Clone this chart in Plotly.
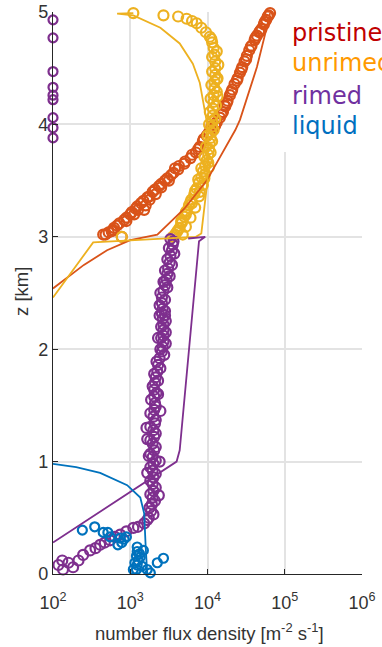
import plotly.graph_objects as go

# ---------------- data (log10 of number flux density, height in km) ----------------
pristine_obs_logN = [4.81, 4.78, 4.76, 4.73, 4.70, 4.67, 4.64, 4.61, 4.57, 4.54, 4.51, 4.48, 4.45, 4.42,
                     4.39, 4.35, 4.32, 4.29, 4.26, 4.23, 4.20, 4.16, 4.12, 4.07, 3.99, 3.94, 3.90, 3.85,
                     3.78, 3.70, 3.62, 3.53, 3.45, 3.40, 3.37, 3.29, 3.25, 3.22, 3.14, 3.10, 3.07, 3.00,
                     2.95, 2.92, 2.83, 2.78, 2.76, 2.68, 2.65, 2.89, 4.22, 4.05, 3.58, 3.33, 3.18,
                     4.79, 4.74, 4.68, 4.62, 4.56, 4.50, 4.44, 4.38, 4.31, 4.25, 4.18, 4.10, 4.02, 3.95,
                     3.88, 3.80, 3.71, 3.63, 3.56, 3.48, 3.40, 3.32, 3.25, 3.17, 3.09, 3.02, 2.95, 2.86,
                     2.79, 2.72, 3.05, 3.20, 3.50]
pristine_obs_z = [4.99, 4.96, 4.93, 4.89, 4.85, 4.82, 4.79, 4.75, 4.70, 4.66, 4.61, 4.56, 4.51, 4.46,
                  4.41, 4.36, 4.31, 4.26, 4.21, 4.16, 4.11, 4.06, 4.02, 3.96, 3.90, 3.85, 3.80, 3.75,
                  3.70, 3.65, 3.60, 3.55, 3.50, 3.44, 3.45, 3.40, 3.33, 3.35, 3.30, 3.24, 3.25, 3.20,
                  3.14, 3.15, 3.10, 3.06, 3.05, 3.02, 3.02, 3.00, 4.17, 3.98, 3.61, 3.38, 3.24,
                  4.97, 4.91, 4.83, 4.77, 4.69, 4.58, 4.49, 4.39, 4.29, 4.19, 4.09, 3.99, 3.93, 3.87,
                  3.78, 3.73, 3.67, 3.63, 3.57, 3.52, 3.47, 3.42, 3.36, 3.32, 3.27, 3.22, 3.17, 3.12,
                  3.08, 3.04, 3.20, 3.28, 3.50]

pristine_mod_logN = [2.00, 2.40, 2.70, 3.00, 3.35, 3.70, 3.99, 4.20, 4.36, 4.42, 4.64, 4.77, 4.81]
pristine_mod_z = [2.54, 2.75, 2.88, 2.97, 3.02, 3.25, 3.50, 3.75, 3.95, 4.04, 4.51, 4.87, 4.99]

unrimed_obs_logN = [3.04, 3.43, 3.62, 3.73, 3.80, 3.86, 3.92, 3.98, 4.03, 4.06, 4.08, 4.09, 4.10, 4.10,
                    4.10, 4.09, 4.09, 4.08, 4.08, 4.07, 4.07, 4.06, 4.06, 4.05, 4.04, 4.03, 4.02, 4.01,
                    3.99, 3.97, 3.94, 3.92, 3.89, 3.86, 3.83, 3.79, 3.76, 3.73, 3.70, 3.67, 3.64, 3.60,
                    3.55, 2.89, 4.02, 3.96, 3.90, 3.80, 3.72, 3.66, 4.12, 4.13,
                    4.05, 4.12, 4.06, 4.14, 4.06, 4.13, 4.05, 4.12, 4.04, 4.11, 4.03, 4.10, 4.02, 4.08,
                    4.00, 4.06, 3.98, 4.04, 3.96, 4.01, 3.92, 3.97, 3.88, 3.94, 3.84, 3.89, 3.78, 3.84,
                    3.72, 3.78, 3.66, 3.72, 3.62, 3.68, 3.58]
unrimed_obs_z = [4.99, 4.97, 4.96, 4.94, 4.92, 4.90, 4.86, 4.82, 4.78, 4.73, 4.68, 4.62, 4.56, 4.50,
                 4.44, 4.38, 4.32, 4.26, 4.20, 4.14, 4.08, 4.03, 3.98, 3.93, 3.88, 3.83, 3.78, 3.73,
                 3.68, 3.63, 3.58, 3.53, 3.48, 3.43, 3.38, 3.33, 3.28, 3.23, 3.18, 3.13, 3.08, 3.04,
                 3.00, 3.00, 3.62, 3.52, 3.40, 3.30, 3.20, 3.12, 4.40, 4.25,
                 4.76, 4.65, 4.60, 4.53, 4.47, 4.41, 4.35, 4.29, 4.23, 4.17, 4.11, 4.05, 4.00, 3.95,
                 3.90, 3.85, 3.80, 3.75, 3.71, 3.66, 3.61, 3.56, 3.51, 3.46, 3.41, 3.36, 3.31, 3.26,
                 3.22, 3.17, 3.14, 3.09, 3.06, 3.02, 3.02]

unrimed_mod_logN = [2.00, 2.52, 3.30, 3.85, 3.92, 4.00, 4.01, 3.97, 3.90, 3.81, 3.64, 3.39, 3.04, 2.83, 3.04]
unrimed_mod_z = [2.46, 2.95, 2.98, 3.00, 3.03, 3.50, 3.95, 4.10, 4.37, 4.54, 4.72, 4.86, 4.97, 4.985, 4.99]

rimed_obs_logN = [3.52, 3.55, 3.54, 3.52, 3.51, 3.49, 3.48, 3.47, 3.45, 3.43, 3.41, 3.41, 3.42, 3.41,
                  3.42, 3.43, 3.43, 3.43, 3.43, 3.42, 3.41, 3.38, 3.36, 3.35, 3.33, 3.32, 3.31, 3.31,
                  3.32, 3.31, 3.30, 3.32, 3.30, 3.31, 3.29, 3.31, 3.29, 3.30, 3.29, 3.30, 3.29, 3.30,
                  3.29, 3.28, 3.27, 3.24, 3.18, 3.10, 3.04, 2.95, 2.87, 2.80, 2.74, 2.67, 2.61, 2.55,
                  2.48, 2.39, 2.33, 2.26, 2.13, 2.07, 2.12, 2.20, 3.22, 3.38, 3.22, 3.37, 3.21, 3.39,
                  3.24, 3.36, 3.36, 3.45, 3.44,
                  3.56, 3.50, 3.57, 3.48, 3.54, 3.45, 3.51, 3.43, 3.48, 3.39, 3.45, 3.38, 3.45, 3.38,
                  3.46, 3.40, 3.46, 3.40, 3.46, 3.39, 3.44, 3.34, 3.39, 3.31, 3.36, 3.29, 3.34, 3.27,
                  3.33, 3.26, 3.33, 3.26, 3.33, 3.26, 3.33, 3.26, 3.33, 3.26, 3.33, 3.26, 3.33, 3.26,
                  3.32, 3.25, 3.30, 3.22]
rimed_obs_z = [2.98, 2.93, 2.88, 2.83, 2.77, 2.72, 2.67, 2.62, 2.57, 2.52, 2.46, 2.41, 2.36, 2.32,
               2.27, 2.22, 2.17, 2.12, 2.07, 2.02, 1.98, 1.92, 1.86, 1.80, 1.75, 1.70, 1.64, 1.58,
               1.52, 1.46, 1.40, 1.34, 1.28, 1.22, 1.16, 1.10, 1.04, 0.98, 0.92, 0.86, 0.80, 0.74,
               0.68, 0.62, 0.56, 0.50, 0.45, 0.42, 0.41, 0.38, 0.35, 0.33, 0.30, 0.28, 0.26, 0.23,
               0.21, 0.17, 0.12, 0.06, 0.04, 0.08, 0.12, 0.10, 1.20, 1.00, 0.90, 0.70, 1.30, 1.45,
               1.05, 1.60, 2.10, 2.30, 2.60,
               2.96, 2.90, 2.85, 2.80, 2.75, 2.70, 2.65, 2.60, 2.55, 2.50, 2.44, 2.39, 2.34, 2.30,
               2.25, 2.20, 2.15, 2.10, 2.05, 2.00, 1.95, 1.89, 1.83, 1.78, 1.72, 1.67, 1.61, 1.55,
               1.49, 1.43, 1.37, 1.31, 1.25, 1.19, 1.13, 1.07, 1.01, 0.95, 0.89, 0.83, 0.77, 0.71,
               0.65, 0.59, 0.53, 0.48]
rimed_top_logN = [2.0, 2.0, 2.0, 2.0, 2.0, 2.0, 2.0, 2.0, 2.0]
rimed_top_z = [4.93, 4.77, 4.47, 4.33, 4.26, 4.22, 4.06, 3.97, 3.88]

rimed_mod_logN = [3.75, 3.97, 3.89, 3.76, 3.64, 3.60, 2.00]
rimed_mod_z = [2.985, 3.00, 2.96, 1.99, 1.10, 1.00, 0.28]

liquid_obs_logN = [2.38, 2.54, 2.65, 2.71, 2.74, 2.87, 2.89, 2.84, 3.09, 3.09, 3.08, 3.10, 3.09, 3.08,
                   3.17, 3.13, 3.06, 3.04, 3.22, 3.26, 3.35, 3.43, 2.92, 2.95, 3.12, 3.15]
liquid_obs_z = [0.39, 0.42, 0.37, 0.37, 0.33, 0.32, 0.28, 0.26, 0.24, 0.20, 0.16, 0.12, 0.08, 0.04,
                0.21, 0.15, 0.10, 0.04, 0.04, 0.01, 0.10, 0.14, 0.31, 0.33, 0.18, 0.07]

liquid_mod_logN = [2.00, 2.30, 2.61, 2.96, 3.13, 3.18, 3.20, 3.22]
liquid_mod_z = [0.98, 0.95, 0.90, 0.79, 0.68, 0.54, 0.24, 0.00]

x_tick_exponents = [2, 3, 4, 5, 6]
y_ticks = [0, 1, 2, 3, 4, 5]
legend_labels = ["pristine", "unrimed", "rimed", "liquid"]

# ---------------- styling ----------------
C_PRI, C_UNR, C_RIM, C_LIQ = "#D95319", "#EDB120", "#7E2F8E", "#0072BD"
LEG_COLORS = ["#C00000", "#FF9900", "#7030A0", "#0070C0"]
FONT = "Liberation Sans, Arial, sans-serif"


def pw(v):
    return [10 ** a for a in v]


fig = go.Figure()


def obs(xl, z, color, size=10):
    fig.add_trace(go.Scatter(
        x=pw(xl), y=z, mode="markers", cliponaxis=False, showlegend=False,
        marker=dict(symbol="circle-open", size=size, color=color, line=dict(width=2.2, color=color))))


def mod(xl, z, color):
    fig.add_trace(go.Scatter(
        x=pw(xl), y=z, mode="lines", showlegend=False,
        line=dict(color=color, width=1.8)))


obs(pristine_obs_logN, pristine_obs_z, C_PRI)
obs(unrimed_obs_logN, unrimed_obs_z, C_UNR)
obs(rimed_obs_logN, rimed_obs_z, C_RIM)
obs(rimed_top_logN, rimed_top_z, C_RIM, size=9)
obs(liquid_obs_logN, liquid_obs_z, C_LIQ, size=9)
mod(pristine_mod_logN, pristine_mod_z, C_PRI)
mod(unrimed_mod_logN, unrimed_mod_z, C_UNR)
mod(rimed_mod_logN, rimed_mod_z, C_RIM)
mod(liquid_mod_logN, liquid_mod_z, C_LIQ)

W, H = 382, 647
L, R, T, B = 53, 20, 12, 73

fig.update_layout(
    width=W, height=H, margin=dict(l=L, r=R, t=T, b=B),
    paper_bgcolor="white", plot_bgcolor="white",
    font=dict(family=FONT, color="#262626"),
    xaxis=dict(type="log", range=[2, 6], tickvals=[10 ** e for e in x_tick_exponents],
               ticktext=["10<sup>%d</sup>" % e for e in x_tick_exponents],
               tickfont=dict(size=18, color="#333333"), automargin=False,
               ticklabelstandoff=12,
               showgrid=True, gridcolor="#E3E3E3", gridwidth=1.5,
               showline=True, linecolor="#262626", linewidth=1.2,
               ticks="inside", ticklen=5, tickcolor="#262626", zeroline=False),
    yaxis=dict(range=[0, 5], tickvals=y_ticks, tickfont=dict(size=18, color="#333333"),
               automargin=False,
               showgrid=True, gridcolor="#E3E3E3", gridwidth=1.5,
               showline=True, linecolor="#262626", linewidth=1.2,
               ticks="inside", ticklen=5, tickcolor="#262626", zeroline=False),
)

# white box behind the legend text (hides gridlines there)
fig.add_shape(type="rect", xref="paper", yref="paper", x0=(280 - L) / (W - L - R), x1=1.2,
              y0=(H - B - 152) / (H - B - T), y1=1.05, fillcolor="white", line=dict(width=0),
              layer="above")

leg_y = [33, 63, 96, 126]
for lab, col, py in zip(legend_labels, LEG_COLORS, leg_y):
    fig.add_annotation(text=lab, xref="paper", yref="paper", x=(290 - L) / (W - L - R),
                       y=(H - B - py) / (H - B - T), xanchor="left", yanchor="middle",
                       showarrow=False,
                       font=dict(size=24, color=col, family="DejaVu Sans, Verdana, sans-serif"))

# axis titles
fig.add_annotation(text="number flux density [m<sup>-2</sup> s<sup>-1</sup>]", xref="paper",
                   yref="paper", x=(209 - L) / (W - L - R), y=-(632 - (H - B)) / (H - B - T),
                   xanchor="center", yanchor="middle", showarrow=False,
                   font=dict(size=18.5, color="#333333"))
fig.add_annotation(text="z [km]", xref="paper", yref="paper", x=-(L - 21) / (W - L - R),
                   y=(H - B - 292) / (H - B - T), xanchor="center", yanchor="middle",
                   textangle=-90, showarrow=False, font=dict(size=18.5, color="#333333"))

fig.write_html("out.html")
